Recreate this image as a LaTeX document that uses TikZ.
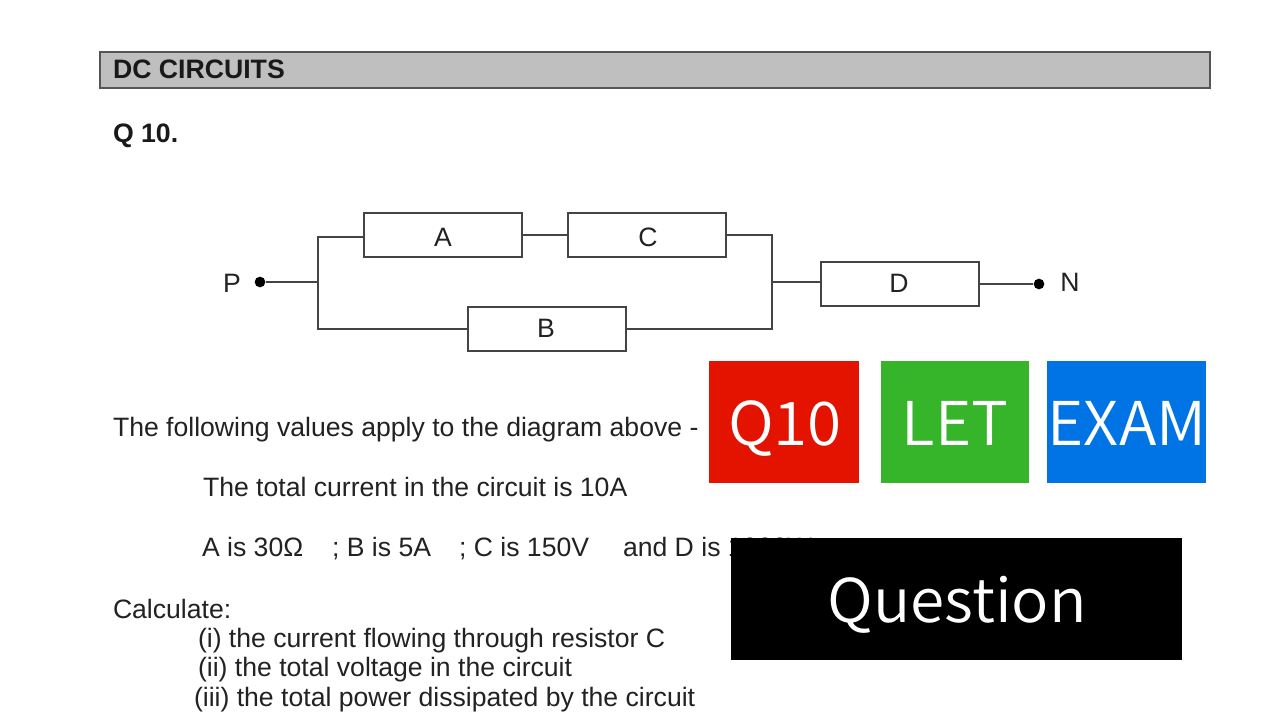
\documentclass[tikz,border=0pt]{standalone}
\usepackage{fontspec}
\setmainfont{Liberation Sans}
\newfontfamily\badgefont[FakeStretch=1.03]{Noto Sans CJK JP DemiLight}
\definecolor{ink}{HTML}{222222}
\definecolor{wire}{HTML}{444444}
\definecolor{hdrfill}{HTML}{BFBFBF}
\definecolor{hdrline}{HTML}{555555}
\definecolor{badgered}{HTML}{E31300}
\definecolor{badgegreen}{HTML}{36B52B}
\definecolor{badgeblue}{HTML}{0074E4}
\tikzset{
  doc/.style={anchor=base west,inner sep=0pt,outer sep=0pt,text=ink,font=\fontsize{19.95}{22}\selectfont},
  docbold/.style={doc,text=black!90,font=\fontsize{20}{22}\selectfont\bfseries},
  res/.style={draw=wire,line width=1.5pt,fill=white,minimum width=118.5pt,minimum height=33pt,inner sep=0pt},
  reslabel/.style={doc,anchor=base},
  wiring/.style={draw=wire,line width=1.5pt},
  term/.style={circle,fill=black,inner sep=0pt,minimum size=8pt},
  badge/.style={inner sep=0pt,outer sep=0pt,anchor=base,text=white,font=\badgefont\fontsize{45.2}{50}\selectfont},
}
\begin{document}
\begin{tikzpicture}[x=0.75pt,y=-0.75pt]
\useasboundingbox (0,0) rectangle (1280,720);
\fill[white] (0,0) rectangle (1280,720);
% header
\draw[fill=hdrfill,draw=hdrline,line width=1.5pt] (100,52) rectangle (1210,88);
\node[docbold] (title) at (113,79) {DC CIRCUITS};
\node[docbold] (q) at (113,143) {Q 10.};
% circuit
\node[res] (A) at (443,235) {};
\node[res] (C) at (647,235) {};
\node[res] (B) at (547,329) {};
\node[res] (D) at (900,284) {};
\node[reslabel] (Alab) at (443,247) {A};
\node[reslabel] (Clab) at (648,247) {C};
\node[reslabel] (Blab) at (546,337) {B};
\node[reslabel] (Dlab) at (899,292) {D};
\node[term] (Pdot) at (260,282) {};
\node[term] (Ndot) at (1039,284) {};
\node[doc,anchor=base] (Plab) at (232,292) {P};
\node[doc,anchor=base] (Nlab) at (1070,291) {N};
\coordinate (jl) at (318,282);
\coordinate (jr) at (772,282);
\coordinate (al) at (318,237);
\draw[wiring] (Pdot) -- (jl);
\draw[wiring] (A.west |- al) -- (al) -- (B.west -| jl) -- (B.west);
\draw[wiring] (A.east) -- (C.west);
\draw[wiring] (C.east) -- (C.east -| jr) -- (B.east -| jr) -- (B.east);
\draw[wiring] (jr) -- (jr -| D.west);
\draw[wiring] (D.east) -- (Ndot);
% body text
\node[doc] (t1) at (113,436) {The following values apply to the diagram above -};
\node[doc] (t2) at (203,496) {The total current in the circuit is 10A};
\node[doc] (t3a) at (202,556) {A is 30Ω};
\node[doc] (t3b) at (332,556) {; B is 5A};
\node[doc] (t3c) at (459,556) {; C is 150V};
\node[doc] (t3d) at (623,556) {and D is 1000W};
\node[doc] (t4) at (113,618) {Calculate:};
\node[doc] (t5) at (198,647) {(i) the current flowing through resistor C};
\node[doc] (t6) at (198,676) {(ii) the total voltage in the circuit};
\node[doc] (t7) at (194,706) {(iii) the total power dissipated by the circuit};
% badges
\fill[badgered] (709,361) rectangle (859,483);
\fill[badgegreen] (881,361) rectangle (1029,483);
\fill[badgeblue] (1047,361) rectangle (1206,483);
\fill[black] (731,538) rectangle (1182,660);
\node[badge] (b1) at (785,445) {Q10};
\node[badge] (b2) at (955,445) {LET};
\node[badge] (b3) at (1127,445) {EXAM};
\node[badge] (b4) at (957,622) {Question};
\end{tikzpicture}
\end{document}
